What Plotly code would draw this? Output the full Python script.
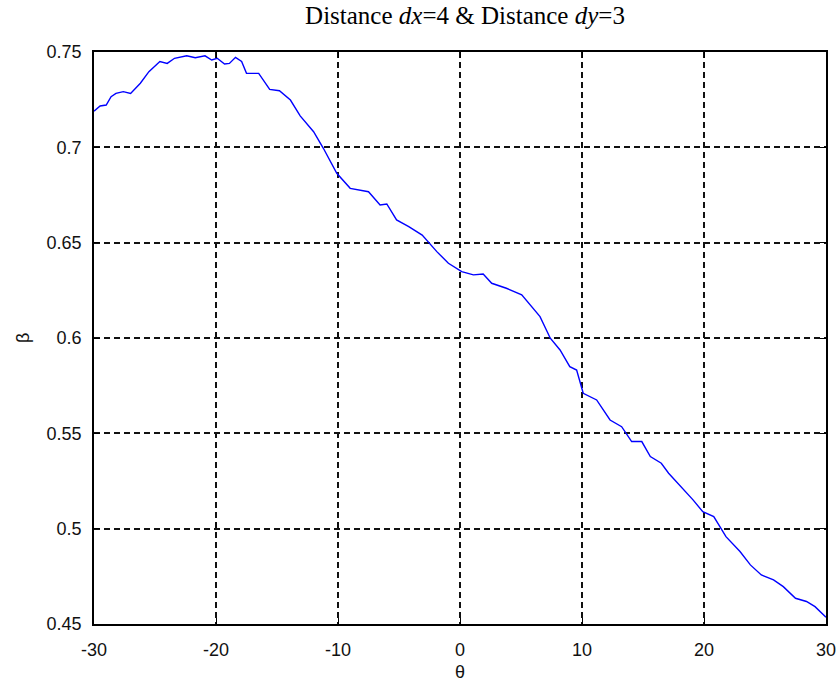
import plotly.graph_objects as go

theta = [-30, -29.5, -29, -28.6, -28.2, -27.6, -27.0, -26.2, -25.5, -24.6, -24.0, -23.4,
         -22.4, -21.7, -20.9, -20.35, -19.9, -19.3, -18.9, -18.4, -17.9, -17.5, -16.5,
         -15.6, -14.8, -13.9, -13.1, -12.0, -11.2, -10.1, -9.0, -7.5, -6.55, -6.0, -5.2,
         -4.2, -3.1, -1.9, -0.95, 0.14, 1.1, 1.9, 2.6, 3.8, 5.06, 6.56, 7.4, 8.2, 9.0,
         9.56, 10.1, 11.2, 12.3, 13.25, 14.07, 14.9, 15.6, 16.5, 17.1, 18.0, 19.1, 19.9,
         20.8, 21.8, 22.95, 23.8, 24.7, 25.7, 26.5, 27.5, 28.4, 29.1, 30]
beta = [0.719, 0.7217, 0.7222, 0.7266, 0.7283, 0.7292, 0.7283, 0.7336, 0.7397, 0.745,
        0.744, 0.7467, 0.748, 0.747, 0.748, 0.7458, 0.7467, 0.7437, 0.744, 0.7472, 0.745,
        0.7388, 0.7388, 0.7304, 0.7297, 0.7248, 0.7165, 0.7082, 0.6995, 0.6864, 0.6785,
        0.6767, 0.6698, 0.6703, 0.6619, 0.6584, 0.654, 0.6453, 0.6392, 0.6348, 0.6331,
        0.6336, 0.6287, 0.6261, 0.6226, 0.6112, 0.5999, 0.5937, 0.585, 0.5832, 0.571,
        0.5675, 0.557, 0.5535, 0.5457, 0.5457, 0.5378, 0.5343, 0.5291, 0.523, 0.5151,
        0.5089, 0.5063, 0.4958, 0.488, 0.481, 0.4757, 0.4731, 0.4696, 0.4635, 0.4618,
        0.4591, 0.4535]

x_ticks = [-30, -20, -10, 0, 10, 20, 30]
y_ticks = [0.45, 0.5, 0.55, 0.6, 0.65, 0.7, 0.75]
y_labels = ["0.45", "0.5", "0.55", "0.6", "0.65", "0.7", "0.75"]

tick_font = dict(family="Liberation Sans, Arial", size=18, color="#111111")

fig = go.Figure()
fig.add_trace(go.Scatter(x=theta, y=beta, mode="lines",
                         line=dict(color="#0000FF", width=1.4), showlegend=False))

axis_common = dict(
    showline=True, linecolor="black", linewidth=1.6, mirror="ticks",
    ticks="inside", ticklen=6, tickcolor="black", tickwidth=1.3,
    showgrid=True, gridcolor="#111111", gridwidth=1.7, griddash="6px,4px",
    zeroline=False, tickfont=tick_font, automargin=False,
)

fig.update_xaxes(range=[-30, 30], tickvals=x_ticks, ticktext=[str(v) for v in x_ticks],
                 ticklabelstandoff=9, **axis_common)
fig.update_yaxes(range=[0.45, 0.75], tickvals=y_ticks, ticktext=y_labels,
                 ticklabelstandoff=7, **axis_common)

fig.add_annotation(text="θ", xref="paper", yref="paper", x=0.5, y=0, yshift=-48,
                   showarrow=False, font=tick_font, xanchor="center", yanchor="middle")
fig.add_annotation(text="β", xref="paper", yref="paper", x=0, y=0.5, xshift=-71,
                   showarrow=False, font=tick_font, textangle=-90,
                   xanchor="center", yanchor="middle")

fig.update_layout(
    width=837, height=684,
    margin=dict(l=94, r=11, t=52, b=60),
    paper_bgcolor="white", plot_bgcolor="white",
    title=dict(text="Distance <i>dx</i>=4 &amp; Distance <i>dy</i>=3",
               font=dict(family="Liberation Serif, Times New Roman", size=25, color="black"),
               x=465 / 837, xanchor="center", y=0.99, yanchor="top"),
)

fig.write_html("out.html")
